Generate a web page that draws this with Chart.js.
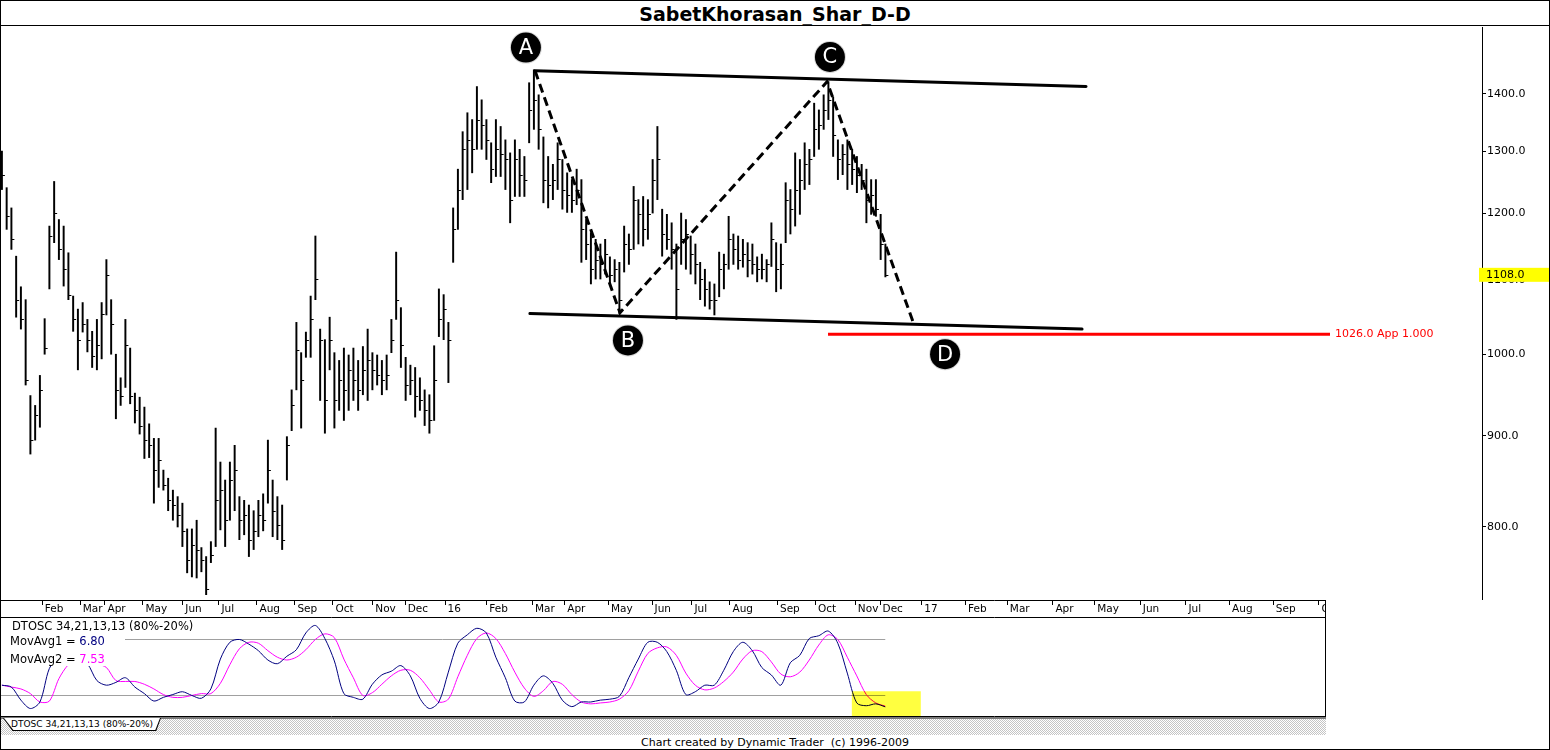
<!DOCTYPE html>
<html>
<head>
<meta charset="utf-8">
<title>SabetKhorasan_Shar_D-D</title>
<script src="https://cdn.jsdelivr.net/npm/chart.js@4.4.1/dist/chart.umd.min.js"></script>
<style>
  body { margin: 0; background: #fff; font-family: 'DejaVu Sans', sans-serif; }
  #page { position: relative; width: 1550px; height: 750px; overflow: hidden; background: #fff; }
  #frame { position: absolute; left: 0; top: 0; width: 1550px; height: 750px; border: 1px solid #000; box-sizing: border-box; pointer-events: none; z-index: 5; }
  #title { position: absolute; left: 0; top: 0; width: 1550px; height: 25px; border-bottom: 1px solid #000; text-align: center; font: bold 19px 'DejaVu Sans', sans-serif; line-height: 29px; color: #000; }
  #priceCanvas { position: absolute; left: 0; top: 27px; }
  #oscCanvas { position: absolute; left: 0; top: 600px; }
  #hatch { position: absolute; left: 0; top: 717px; width: 1326px; height: 18px; box-sizing: border-box; border-top: 2px solid #7a7a7a;
           background-image: repeating-conic-gradient(#c4c4c4 0% 25%, #ffffff 0% 50%); background-size: 2px 2px; }
  #tabEdge { position: absolute; left: 3px; top: 718px; width: 158px; height: 13px; background: #000; clip-path: polygon(0 0, 100% 0, 97% 100%, 6% 100%); }
  #tab { position: absolute; left: 1px; top: 0; right: 1px; bottom: 1px; background: #fff; clip-path: polygon(0 0, 100% 0, 97% 100%, 6% 100%);
         font: 9px 'DejaVu Sans', sans-serif; line-height: 12px; text-align: center; color: #000; }
  #footer { position: absolute; left: 0; top: 736px; width: 1550px; text-align: center; font: 11px 'DejaVu Sans', sans-serif; line-height: 14px; color: #000; }
</style>
</head>
<body>
<div id="page">
  <div id="title">SabetKhorasan_Shar_D-D</div>
  <canvas id="priceCanvas" width="1550" height="573"></canvas>
  <canvas id="oscCanvas" width="1326" height="117"></canvas>
  <div id="hatch"></div>
  <div id="tabEdge"><div id="tab">DTOSC 34,21,13,13 (80%-20%)</div></div>
  <div id="footer">Chart created by Dynamic Trader&nbsp; (c) 1996-2009</div>
  <div id="frame"></div>
</div>
<script>
// Price bars (one bar every 2.5 trading days)
const barHigh = [
    1300, 1240, 1208, 1135, 1091, 1073, 948, 936, 973, 1047,
    1180, 1250, 1190, 1180, 1140, 1078, 1060, 1069, 1046, 1030,
    1046, 1069, 1130, 1073, 1000, 970, 1046, 1008, 951, 946,
    934, 914, 897, 897, 861, 852, 839, 832, 825, 798,
    798, 807, 779, 770, 785, 909, 870, 850, 870, 889,
    832, 828, 823, 817, 828, 835, 895, 850, 832, 823,
    899, 955, 1042, 1002, 1029, 1078, 1165, 1033, 1019, 1049,
    1002, 992, 1008, 999, 1008, 992, 1010, 1033, 1002, 999,
    992, 999, 1046, 1141, 1062, 996, 986, 983, 970, 955,
    949, 1011, 1088, 1080, 1042, 1208, 1270, 1333, 1366, 1354,
    1413, 1389, 1354, 1314, 1354, 1342, 1319, 1297, 1319, 1303,
    1291, 1420, 1444, 1398, 1324, 1291, 1278, 1314, 1286, 1264,
    1253, 1270, 1253, 1190, 1170, 1160, 1153, 1160, 1134, 1130,
    1126, 1180, 1168, 1242, 1221, 1226, 1221, 1286, 1342, 1206,
    1198, 1185, 1153, 1200, 1190, 1165, 1153, 1126, 1116, 1098,
    1095, 1141, 1138, 1195, 1168, 1165, 1160, 1155, 1153, 1134,
    1138, 1130, 1185, 1155, 1153, 1248, 1237, 1297, 1286, 1314,
    1303, 1383, 1371, 1398, 1422, 1394, 1319, 1311, 1319, 1303,
    1291, 1278, 1270, 1253, 1253, 1198, 1153
];
const barLow = [
    1237, 1175, 1145, 1049, 1033, 961, 879, 895, 910, 1000,
    1088, 1155, 1130, 1092, 1073, 1030, 980, 1029, 1003, 983,
    980, 994, 1052, 1000, 920, 936, 958, 938, 915, 902,
    874, 875, 825, 842, 839, 817, 807, 800, 780, 754,
    750, 749, 755, 733, 764, 780, 797, 780, 807, 817,
    787, 792, 770, 777, 790, 796, 825, 790, 787, 777,
    850, 906, 955, 909, 996, 996, 1073, 942, 903, 980,
    909, 930, 918, 930, 942, 930, 949, 942, 955, 961,
    949, 955, 1002, 1046, 983, 942, 949, 922, 930, 912,
    903, 918, 1023, 1019, 964, 1126, 1175, 1221, 1237, 1264,
    1303, 1303, 1286, 1248, 1258, 1258, 1237, 1185, 1226, 1226,
    1226, 1314, 1337, 1303, 1216, 1208, 1221, 1237, 1206, 1201,
    1201, 1213, 1126, 1130, 1095, 1102, 1102, 1109, 1095, 1098,
    1054, 1112, 1123, 1145, 1153, 1150, 1160, 1200, 1221, 1135,
    1145, 1116, 1046, 1123, 1116, 1109, 1095, 1073, 1064, 1060,
    1052, 1077, 1088, 1116, 1123, 1116, 1119, 1105, 1109, 1098,
    1102, 1098, 1120, 1084, 1088, 1155, 1168, 1180, 1198, 1237,
    1245, 1291, 1303, 1337, 1354, 1291, 1253, 1261, 1237, 1245,
    1232, 1237, 1185, 1198, 1195, 1130, 1105
];
const barClose = [
    1260, 1195, 1160, 1073, 1046, 967, 895, 924, 955, 1008,
    1165, 1200, 1145, 1116, 1080, 1046, 1019, 1040, 1019, 998,
    1012, 1053, 1108, 1040, 955, 948, 1012, 948, 930, 912,
    895, 889, 861, 872, 845, 828, 823, 812, 796, 767,
    782, 777, 767, 738, 772, 828, 839, 807, 850, 861,
    807, 812, 787, 796, 812, 807, 861, 817, 802, 787,
    889, 936, 1006, 967, 1019, 1046, 1102, 1019, 942, 1019,
    942, 967, 955, 980, 967, 955, 980, 992, 980, 973,
    967, 973, 1019, 1073, 1012, 961, 967, 948, 942, 930,
    918, 967, 1046, 1060, 1019, 1175, 1237, 1303, 1319, 1303,
    1354, 1345, 1319, 1270, 1303, 1295, 1286, 1221, 1286, 1261,
    1253, 1371, 1389, 1337, 1253, 1245, 1253, 1286, 1237, 1229,
    1221, 1237, 1175, 1153, 1116, 1130, 1123, 1138, 1108, 1116,
    1073, 1153, 1145, 1221, 1198, 1175, 1198, 1253, 1286, 1168,
    1160, 1145, 1088, 1160, 1168, 1138, 1123, 1102, 1088, 1073,
    1073, 1116, 1123, 1160, 1145, 1130, 1138, 1130, 1123, 1116,
    1116, 1123, 1160, 1116, 1123, 1221, 1206, 1237, 1253, 1278,
    1286, 1337, 1345, 1371, 1389, 1328, 1286, 1295, 1278, 1270,
    1261, 1253, 1221, 1229, 1206, 1153, 1108
];
const firstBarDay = 1;
const barStep = 2.5;

// DTOSC 34,21,13,13 (one value every 5 trading days)
const oscFast = [
    30, 28, 14, 5, 12, 48, 60, 62, 58, 53,
    35, 30, 33, 38, 28, 21, 13, 17, 20, 23,
    19, 16, 26, 58, 76, 79, 74, 67, 57, 53,
    61, 68, 86, 94, 80, 56, 21, 17, 15, 31,
    41, 45, 51, 40, 16, 5, 12, 44, 75, 84,
    91, 86, 60, 38, 13, 12, 30, 40, 32, 14,
    7, 12, 12, 14, 15, 18, 38, 58, 76, 76,
    66, 46, 20, 23, 30, 30, 46, 66, 76, 67,
    49, 41, 30, 54, 62, 80, 83, 88, 75, 43,
    11, 8, 10, 6.8
];
const oscSlow = [
    30, 28, 26, 21, 12, 13, 37, 52, 58, 58,
    53, 49, 35, 34, 34, 31, 26, 20, 17, 17,
    19, 21, 21, 32, 52, 69, 76, 75, 67, 60,
    57, 60, 68, 79, 85, 81, 58, 38, 19, 22,
    31, 40, 46, 46, 38, 25, 12, 15, 39, 62,
    80, 86, 80, 64, 44, 27, 18, 24, 34, 31,
    20, 12, 10, 11, 12, 15, 24, 45, 64, 70,
    71, 62, 43, 30, 25, 27, 34, 44, 58, 67,
    66, 55, 42, 39, 44, 57, 73, 84, 79, 60,
    40, 20, 11, 7.53
];
const oscStep = 5;
const oscLevels = [80, 20];

// axes
const priceTicks = [800, 900, 1000, 1100, 1200, 1300, 1400];
const monthLabels = ['Feb', 'Mar', 'Apr', 'May', 'Jun', 'Jul', 'Aug', 'Sep', 'Oct', 'Nov', 'Dec', '16',
    'Feb', 'Mar', 'Apr', 'May', 'Jun', 'Jul', 'Aug', 'Sep', 'Oct', 'Nov', 'Dec', '17',
    'Feb', 'Mar', 'Apr', 'May', 'Jun', 'Jul', 'Aug', 'Sep', 'Oct'];
const monthDays = [22, 42, 55, 75, 96, 115, 135, 155, 175, 196, 213, 234,
    256, 280, 297, 320, 343, 364, 384, 409, 429, 450, 463, 485,
    508, 530, 554, 576, 600, 624, 647, 670, 694];

// ABCD pattern drawn on the chart (trading day, price)
const pivotNames = ['A', 'B', 'C', 'D'];
const pivotDays = [281.6, 326.3, 435.3, 480.5];
const pivotPrices = [1442, 1055, 1422, 1043];
const markerDays = [276.8, 330.5, 436.8, 497.4];
const markerPrices = [1486, 1018, 1468, 1000];
const upperTrendDays = [281.6, 571.6];
const upperTrendPrices = [1442, 1413];
const lowerTrendDays = [278.9, 569.5];
const lowerTrendPrices = [1054, 1033];
const targetPrice = 1026;
const targetDays = [435.8, 700];
const targetText = '1026.0 App 1.000';
const oscHighlightDays = [448.4, 484.7];
const oscHighlightValues = [-3, 23.5];

const FONT = 'DejaVu Sans';
const barDay = i => firstBarDay + i * barStep;
const oscDay = i => firstBarDay + i * oscStep;

// little close ticks on the right side of each bar
const closeTicks = {
    id: 'closeTicks',
    afterDatasetsDraw(chart) {
        const { ctx, scales: { x, y } } = chart;
        ctx.save();
        ctx.strokeStyle = '#000';
        ctx.lineWidth = 1;
        ctx.beginPath();
        barClose.forEach((c, i) => {
            const px = x.getPixelForValue(barDay(i));
            const py = Math.round(y.getPixelForValue(c)) + 0.5;
            ctx.moveTo(px, py);
            ctx.lineTo(px + 3, py);
        });
        ctx.stroke();
        ctx.restore();
    }
};

const abcdPattern = {
    id: 'abcdPattern',
    afterDatasetsDraw(chart) {
        const { ctx, scales: { x, y } } = chart;
        const pt = (d, p) => [x.getPixelForValue(d), y.getPixelForValue(p)];
        ctx.save();

        // channel lines
        ctx.strokeStyle = '#000';
        ctx.lineWidth = 3;
        ctx.lineCap = 'round';
        [[upperTrendDays, upperTrendPrices], [lowerTrendDays, lowerTrendPrices]].forEach(([d, p]) => {
            const a = pt(d[0], p[0]);
            const b = pt(d[1], p[1]);
            ctx.beginPath();
            ctx.moveTo(a[0], a[1]);
            ctx.lineTo(b[0], b[1]);
            ctx.stroke();
        });

        // dashed legs A-B-C-D
        ctx.lineCap = 'butt';
        ctx.setLineDash([9, 5]);
        ctx.beginPath();
        pivotDays.forEach((d, i) => {
            const [px, py] = pt(d, pivotPrices[i]);
            if (i === 0) ctx.moveTo(px, py); else ctx.lineTo(px, py);
        });
        ctx.stroke();
        ctx.setLineDash([]);

        // projected target
        const t0 = pt(targetDays[0], targetPrice);
        const t1 = pt(targetDays[1], targetPrice);
        ctx.strokeStyle = '#ff0000';
        ctx.lineWidth = 3;
        ctx.beginPath();
        ctx.moveTo(t0[0], t0[1]);
        ctx.lineTo(t1[0], t1[1]);
        ctx.stroke();
        ctx.fillStyle = '#ff0000';
        ctx.font = '11px ' + FONT;
        ctx.textBaseline = 'middle';
        ctx.textAlign = 'left';
        ctx.fillText(targetText, t1[0] + 5, t1[1]);

        // letter markers
        markerDays.forEach((d, i) => {
            const [px, py] = pt(d, markerPrices[i]);
            ctx.beginPath();
            ctx.arc(px, py, 16, 0, Math.PI * 2);
            ctx.fillStyle = '#d8d8d8';
            ctx.fill();
            ctx.beginPath();
            ctx.arc(px, py, 15, 0, Math.PI * 2);
            ctx.fillStyle = '#000';
            ctx.fill();
            ctx.fillStyle = '#fff';
            ctx.font = '21px ' + FONT;
            ctx.textAlign = 'center';
            ctx.textBaseline = 'middle';
            ctx.fillText(pivotNames[i], px, py + 1);
        });
        ctx.restore();
    },
    afterDraw(chart) {
        // last price flag on the price axis
        const { ctx, chartArea, scales: { y } } = chart;
        const last = barClose[barClose.length - 1];
        const py = y.getPixelForValue(last);
        ctx.save();
        ctx.fillStyle = '#ffff00';
        ctx.fillRect(chartArea.right - 3, py - 7, chart.width - chartArea.right + 3, 14);
        ctx.fillStyle = '#000';
        ctx.font = '11px ' + FONT;
        ctx.textBaseline = 'middle';
        ctx.textAlign = 'left';
        ctx.fillText(last.toFixed(1), chartArea.right + 4, py);
        ctx.restore();
    }
};

new Chart(document.getElementById('priceCanvas'), {
    type: 'bar',
    data: {
        datasets: [{
            data: barHigh.map((h, i) => ({ x: barDay(i), y: [barLow[i], h] })),
            backgroundColor: '#000',
            barThickness: 1.3,
            grouped: false
        }]
    },
    options: {
        responsive: false,
        animation: false,
        devicePixelRatio: 1,
        layout: { padding: 0 },
        plugins: { legend: { display: false }, tooltip: { enabled: false } },
        scales: {
            x: { type: 'linear', min: 0, max: 780, offset: false, display: false },
            y: {
                type: 'logarithmic',
                position: 'right',
                min: 728,
                max: 1526,
                afterBuildTicks: s => { s.ticks = priceTicks.map(v => ({ value: v })); },
                afterFit: s => { s.width = 68; s.paddingTop = 0; s.paddingBottom = 0; },
                grid: { drawOnChartArea: false, color: '#000', tickLength: 4 },
                border: { color: '#000', width: 1 },
                ticks: {
                    color: '#000',
                    padding: 1,
                    font: { family: FONT, size: 11 },
                    callback: v => Number(v).toFixed(1)
                }
            }
        }
    },
    plugins: [closeTicks, abcdPattern]
});

const oscDecor = {
    id: 'oscDecor',
    beforeDatasetsDraw(chart) {
        const { ctx, chartArea, scales: { x, y } } = chart;
        const endPx = x.getPixelForValue(oscDay(oscFast.length - 1));
        ctx.save();
        ctx.strokeStyle = '#a0a0a0';
        ctx.lineWidth = 1;
        oscLevels.forEach(v => {
            const py = Math.round(y.getPixelForValue(v)) + 0.5;
            ctx.beginPath();
            ctx.moveTo(chartArea.left, py);
            ctx.lineTo(endPx, py);
            ctx.stroke();
        });
        ctx.restore();
    },
    afterDatasetsDraw(chart) {
        const { ctx, chartArea, scales: { x, y } } = chart;
        ctx.save();

        // yellow marker over the latest readings
        const hx0 = x.getPixelForValue(oscHighlightDays[0]);
        const hx1 = x.getPixelForValue(oscHighlightDays[1]);
        const hy0 = y.getPixelForValue(oscHighlightValues[1]);
        const hy1 = y.getPixelForValue(oscHighlightValues[0]);
        ctx.globalCompositeOperation = 'multiply';
        ctx.fillStyle = '#ffff40';
        ctx.fillRect(hx0, hy0, hx1 - hx0, hy1 - hy0 + 2);
        ctx.globalCompositeOperation = 'source-over';

        // legend block
        const lx = chartArea.left;
        const ly = chartArea.top;
        ctx.fillStyle = '#fff';
        ctx.fillRect(lx, ly + 1, 197, 15);
        ctx.fillRect(lx, ly + 16, 125, 32);
        ctx.font = '11.5px ' + FONT;
        ctx.textBaseline = 'middle';
        ctx.textAlign = 'left';
        ctx.fillStyle = '#000';
        ctx.fillText('DTOSC 34,21,13,13 (80%-20%)', lx + 12, ly + 9);
        const lines = [['MovAvg1 = ', oscFast, '#000080'], ['MovAvg2 = ', oscSlow, '#ff00ff']];
        lines.forEach(([label, series, color], i) => {
            const yy = ly + 24 + i * 18;
            ctx.fillStyle = '#000';
            ctx.fillText(label, lx + 10, yy);
            const w = ctx.measureText(label).width;
            ctx.fillStyle = color;
            ctx.fillText(series[series.length - 1].toFixed(2), lx + 10 + w, yy);
        });
        ctx.restore();
    },
    afterDraw(chart) {
        const { ctx, chartArea, scales: { x } } = chart;
        ctx.save();
        ctx.strokeStyle = '#000';
        ctx.lineWidth = 1;
        ctx.beginPath();
        // date strip top edge and month ticks
        ctx.moveTo(0, 0.5);
        ctx.lineTo(chart.width, 0.5);
        monthDays.forEach(d => {
            const px = Math.round(x.getPixelForValue(d)) + 0.5;
            ctx.moveTo(px, 0);
            ctx.lineTo(px, 5);
        });
        // panel box
        ctx.moveTo(0, Math.round(chartArea.top) - 0.5);
        ctx.lineTo(chart.width, Math.round(chartArea.top) - 0.5);
        ctx.moveTo(0, Math.round(chartArea.bottom) + 0.5);
        ctx.lineTo(chart.width, Math.round(chartArea.bottom) + 0.5);
        ctx.moveTo(chart.width - 0.5, 0);
        ctx.lineTo(chart.width - 0.5, chart.height);
        ctx.stroke();
        ctx.restore();
    }
};

new Chart(document.getElementById('oscCanvas'), {
    type: 'line',
    data: {
        datasets: [
            {
                data: oscFast.map((v, i) => ({ x: oscDay(i), y: v })),
                borderColor: '#000080',
                borderWidth: 1,
                pointRadius: 0,
                tension: 0.3
            },
            {
                data: oscSlow.map((v, i) => ({ x: oscDay(i), y: v })),
                borderColor: '#ff00ff',
                borderWidth: 1,
                pointRadius: 0,
                tension: 0.3
            }
        ]
    },
    options: {
        responsive: false,
        animation: false,
        devicePixelRatio: 1,
        layout: { padding: { bottom: 1 } },
        plugins: { legend: { display: false }, tooltip: { enabled: false } },
        scales: {
            x: {
                type: 'linear',
                position: 'top',
                min: 0,
                max: 698,
                afterBuildTicks: s => { s.ticks = monthDays.map(v => ({ value: v })); },
                afterFit: s => { s.height = 18; s.paddingLeft = 0; s.paddingRight = 0; },
                grid: { display: false, drawTicks: false },
                border: { display: false },
                ticks: {
                    autoSkip: false,
                    maxRotation: 0,
                    align: 'start',
                    labelOffset: 3,
                    padding: 2,
                    color: '#000',
                    font: { family: FONT, size: 10.5 },
                    callback: (v, i) => monthLabels[i]
                }
            },
            y: { min: -3, max: 102, display: false }
        }
    },
    plugins: [oscDecor]
});
</script>
</body>
</html>
